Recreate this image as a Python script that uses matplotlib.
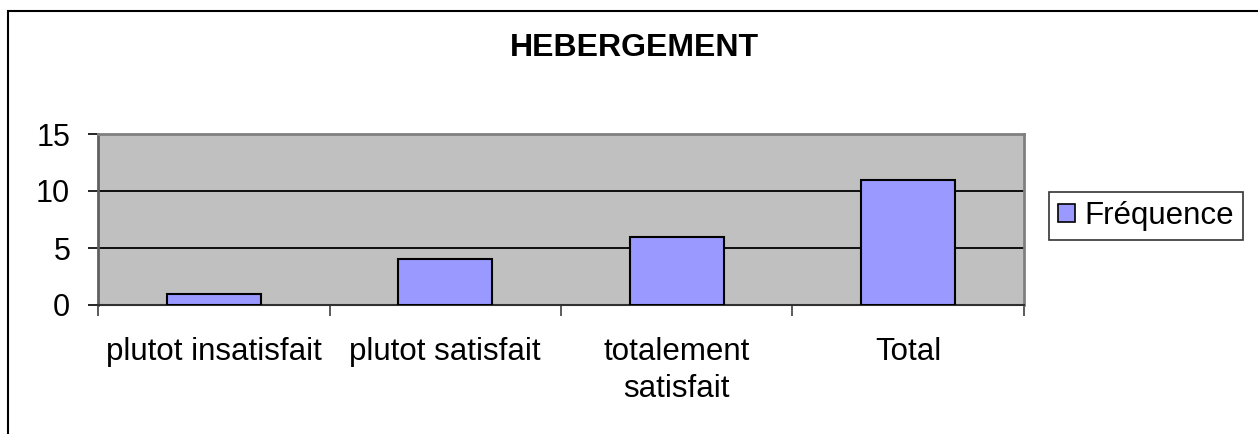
import matplotlib
matplotlib.use('Agg')
import matplotlib.pyplot as plt
from matplotlib.patches import Rectangle, Patch

plt.rcParams['font.family'] = ['Liberation Sans', 'DejaVu Sans']

categories = ['plutot insatisfait', 'plutot satisfait', 'totalement\nsatisfait', 'Total']
frequence = [1, 4, 6, 11]
yticks = [0, 5, 10, 15]

BAR = '#9999FF'
PLOT_BG = '#C0C0C0'

fig = plt.figure(figsize=(12.58, 4.34), dpi=100, facecolor='white')
ax = fig.add_axes([98 / 1258, 1 - 305 / 434, (1024 - 98) / 1258, (305 - 134) / 434])
ax.set_facecolor(PLOT_BG)

x = list(range(len(categories)))
ax.bar(x, frequence, width=0.405, color=BAR, edgecolor='black', linewidth=1.5,
       zorder=3, label='Fréquence')

ax.set_xlim(-0.5, len(categories) - 0.5)
ax.set_ylim(0, 15)
ax.set_yticks(yticks)
ax.tick_params(axis='y', labelsize=22, length=7, width=1.2, pad=13, color='black')

# category ticks sit between the groups, labels in the middle
ax.set_xticks([i - 0.5 for i in range(len(categories) + 1)])
ax.set_xticklabels([])
ax.set_xticks(x, minor=True)
ax.set_xticklabels(categories, minor=True, fontsize=22.5, linespacing=1.32)
ax.tick_params(axis='x', which='minor', length=0, pad=23)
ax.tick_params(axis='x', which='major', length=8, width=1.2, color='#404040')

for yv in [5, 10]:
    ax.axhline(yv, color='black', linewidth=1.3, zorder=1)

for side in ['top', 'right']:
    ax.spines[side].set_color('#808080')
    ax.spines[side].set_linewidth(2)
ax.spines['left'].set_color('#606060')
ax.spines['left'].set_linewidth(2)
ax.spines['bottom'].set_color('#303030')
ax.spines['bottom'].set_linewidth(1.5)

fig.text(634 / 1258, 1 - 48 / 434, 'HEBERGEMENT', ha='center', va='center',
         fontsize=23, fontweight='bold')

# legend box
handles = [Patch(facecolor=BAR, edgecolor='black', linewidth=1.2, label='Fréquence')]
leg = fig.legend(handles=handles, loc='center', bbox_to_anchor=(1146 / 1258, 1 - 216 / 434),
                 fontsize=22.5, frameon=True, fancybox=False, edgecolor='black',
                 handlelength=0.55, handleheight=0.55, handletextpad=0.3,
                 borderpad=0.3, borderaxespad=0)
leg.get_frame().set_linewidth(1.2)

# chart border
fig.patches.append(Rectangle((8 / 1258, -0.1), 1.2, 1 - 11 / 434 + 0.1,
                             transform=fig.transFigure, fill=False,
                             edgecolor='black', linewidth=1.5))

fig.savefig('out.png', dpi=100, facecolor='white')
